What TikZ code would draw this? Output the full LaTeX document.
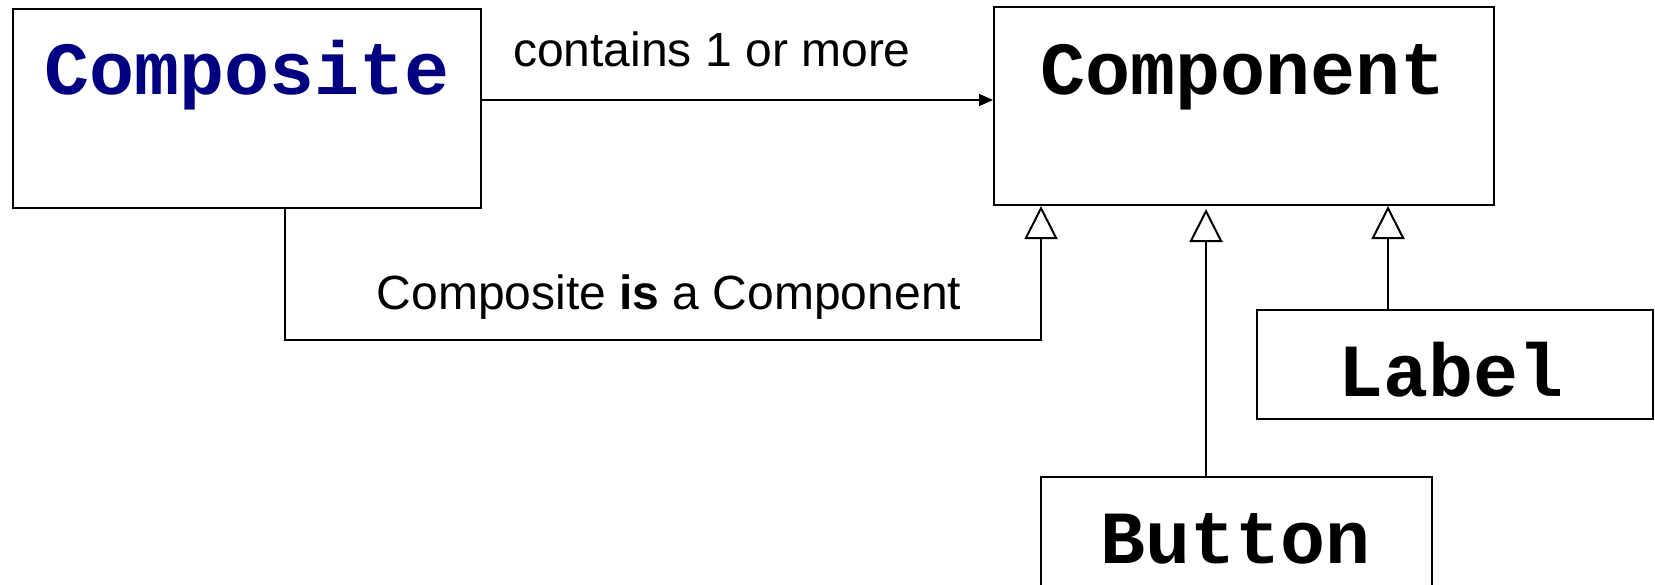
\documentclass[tikz,border=0pt]{standalone}
\usepackage{fontspec}
\setmainfont{Liberation Sans}
\setmonofont{Liberation Mono}
\usetikzlibrary{arrows.meta}
\definecolor{navyblue}{RGB}{0,0,128}
\begin{document}
\begin{tikzpicture}[x=1pt,y=-1pt,
  box/.style={draw=black, line width=2pt, inner sep=0pt},
  cls/.style={font=\fontsize{75}{80}\selectfont\ttfamily\bfseries, anchor=base, inner sep=0pt},
  note/.style={font=\fontsize{48}{56}\selectfont, anchor=base, inner sep=0pt},
  conn/.style={line width=1.5pt},
  gen/.style={conn, -{Triangle[open, length=33pt, width=33pt, line width=2pt]}},
  assoc/.style={conn, -{Triangle[length=14pt, width=12pt]}},
]
\useasboundingbox (0,0) rectangle (1655,584);
\fill[white] (0,0) rectangle (1655,584);
% boxes
\node[box, minimum width=468pt, minimum height=199pt] (composite) at (247,108) {};
\node[box, minimum width=500pt, minimum height=198pt] (component) at (1244,106) {};
\node[box, minimum width=396pt, minimum height=109pt] (lbl) at (1455,364.5) {};
\node[box, minimum width=391pt, minimum height=133pt] (button) at (1236.5,543.5) {};
% class names
\node[cls, text=navyblue] (tcomposite) at (247,94) {Composite};
\node[cls] (tcomponent) at (1243,94) {Component};
\node[cls] (tlabel) at (1451,396) {Label};
\node[cls] (tbutton) at (1236,563) {Button};
% connectors
\draw[assoc] (composite.east |- 0,100) -- (component.west |- 0,100);
\draw[gen] (composite.south -| 285,0) -- (285,340) -- (1041,340) -- (component.south -| 1041,0);
\draw[gen, shorten >=3pt] (button.north -| 1206,0) -- (component.south -| 1206,0);
\draw[gen] (lbl.north -| 1388,0) -- (component.south -| 1388,0);
% connector labels
\node[note] (contains) at (712,66) {contains 1 or more};
\node[note] (isa) at (669,309) {Composite \textbf{is} a Component};
\end{tikzpicture}
\end{document}
